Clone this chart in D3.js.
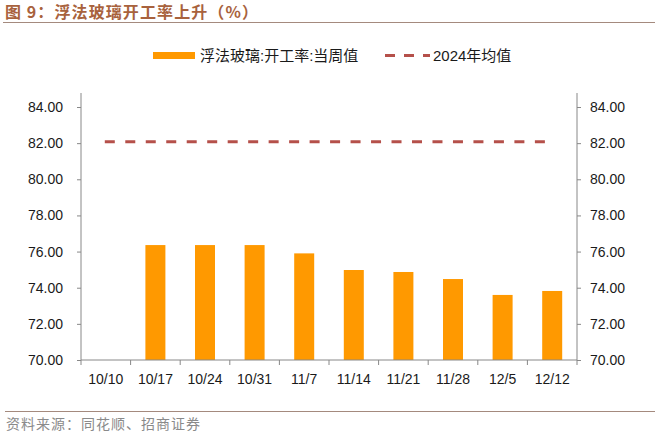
<!DOCTYPE html>
<html><head><meta charset="utf-8">
<script src="https://cdn.jsdelivr.net/npm/d3@7"></script>
<style>body{margin:0;background:#fff}svg{display:block}</style>
</head><body>
<svg id="c" width="659" height="444"></svg>
<script>
const categories = ["10/10","10/17","10/24","10/31","11/7","11/14","11/21","11/28","12/5","12/12"];
const weeklyValues = [null,76.36,76.36,76.36,75.9,74.98,74.87,74.48,73.6,73.82];
const avg2024 = 82.08;
const yTicks = [70,72,74,76,78,80,82,84];
const seriesNames = ["浮法玻璃:开工率:当周值","2024年均值"];
const titleText = "图 9：浮法玻璃开工率上升（%）";
const sourceText = "资料来源：同花顺、招商证券";

(function(){
const svg = d3.select("#c");
const font = "Arial, 'Liberation Sans', 'Noto Sans CJK SC', sans-serif";
const pLeft = 81, pRight = 577, pTop = 107, pBottom = 360;
const xb = d3.scaleBand().domain(categories).range([pLeft, pRight]);
const y = d3.scaleLinear().domain([70, 84]).range([pBottom, pTop]);

// title
svg.append("text").attr("x", 5).attr("y", 18).text(titleText)
  .attr("font-family", "'Noto Sans CJK SC', sans-serif").attr("font-weight", "bold")
  .attr("font-size", 16).attr("letter-spacing", 1.1).attr("fill", "#a8623d");
svg.append("line").attr("x1", 3).attr("x2", 655).attr("y1", 22.5).attr("y2", 22.5)
  .attr("stroke", "#a48a7e").attr("stroke-width", 1.2);

// footer
svg.append("line").attr("x1", 5).attr("x2", 655).attr("y1", 411.5).attr("y2", 411.5)
  .attr("stroke", "#a48a7e").attr("stroke-width", 1);
svg.append("text").attr("x", 6).attr("y", 429).text(sourceText)
  .attr("font-family", "'Noto Sans CJK SC', sans-serif").attr("font-size", 14)
  .attr("letter-spacing", 1).attr("fill", "#8a8a8a");

// bars
svg.append("g").selectAll("rect").data(categories.map((c, i) => ({c, v: weeklyValues[i]})).filter(d => d.v != null))
  .join("rect")
  .attr("x", d => xb(d.c) + xb.bandwidth() / 2 - 10)
  .attr("width", 20)
  .attr("y", d => y(d.v)).attr("height", d => y(70) - y(d.v))
  .attr("fill", "#FF9900");

// avg line
svg.append("line")
  .attr("x1", xb(categories[0]) + xb.bandwidth() / 2 - 1)
  .attr("x2", xb(categories[categories.length - 1]) + xb.bandwidth() / 2 - 1)
  .attr("y1", y(avg2024)).attr("y2", y(avg2024))
  .attr("stroke", "#b5504a").attr("stroke-width", 3).attr("stroke-dasharray", "10,10.48");

// axes
function styleAxis(g) {
  g.selectAll("path,line").attr("stroke", "#888");
  g.selectAll("text").attr("font-family", font).attr("font-size", 14).attr("fill", "#1a1a1a");
}
const fmt = d3.format(".2f");
const gl = svg.append("g").attr("transform", `translate(${pLeft},0)`)
  .call(d3.axisLeft(y).tickValues(yTicks).tickFormat(fmt).tickSize(4).tickSizeOuter(0).tickPadding(14));
styleAxis(gl);
const gr = svg.append("g").attr("transform", `translate(${pRight},0)`)
  .call(d3.axisRight(y).tickValues(yTicks).tickFormat(fmt).tickSize(4).tickSizeOuter(0).tickPadding(9));
styleAxis(gr);
gl.select(".domain").attr("d", `M0,${pTop - 14}V${pBottom}`);
gr.select(".domain").attr("d", `M0,${pTop - 14}V${pBottom}`);

const gx = svg.append("g").attr("transform", `translate(0,${pBottom})`)
  .call(d3.axisBottom(xb).tickSize(0).tickPadding(14));
styleAxis(gx);
gx.select(".domain").attr("d", `M${pLeft},0H${pRight}`);
gx.selectAll(".sep").data(d3.range(categories.length + 1)).join("line")
  .attr("x1", i => pLeft + i * xb.bandwidth()).attr("x2", i => pLeft + i * xb.bandwidth())
  .attr("y1", 0).attr("y2", 5).attr("stroke", "#888");

// legend
const lg = svg.append("g");
lg.append("rect").attr("x", 153).attr("y", 52).attr("width", 42).attr("height", 7).attr("fill", "#FF9900");
lg.append("text").attr("x", 200).attr("y", 61).text(seriesNames[0])
  .attr("font-family", font).attr("font-size", 15).attr("fill", "#1a1a1a");
lg.append("line").attr("x1", 385).attr("x2", 430).attr("y1", 55.5).attr("y2", 55.5)
  .attr("stroke", "#b5504a").attr("stroke-width", 3).attr("stroke-dasharray", "10,9");
lg.append("text").attr("x", 433).attr("y", 61).text(seriesNames[1])
  .attr("font-family", font).attr("font-size", 15).attr("fill", "#1a1a1a");
})();
</script>
</body></html>
